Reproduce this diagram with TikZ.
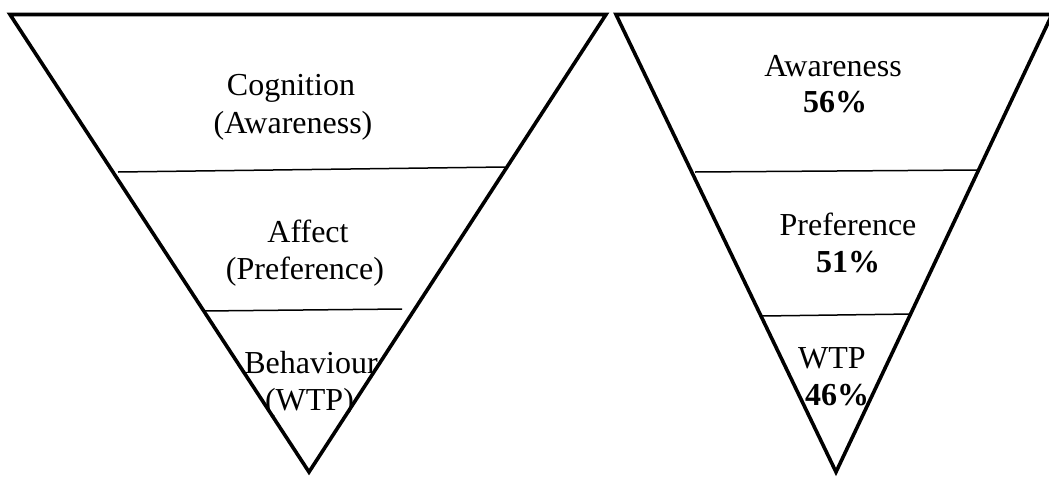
\documentclass[tikz,border=0pt]{standalone}
\usepackage{fontspec}
\setmainfont{Liberation Serif}
\begin{document}
\begin{tikzpicture}[x=1pt,y=-1pt,
  tri/.style={line width=3.6pt,line join=miter},
  sep/.style={line width=1.5pt},
  lbl/.style={anchor=base,inner sep=0pt,font=\fontsize{32}{38}\selectfont},
  pct/.style={lbl,font=\fontsize{32}{38}\selectfont\bfseries}]
\useasboundingbox (0,0) rectangle (1049,477);
% left funnel
\coordinate (L1) at (10,14.5);
\coordinate (L2) at (606,14.5);
\coordinate (L3) at (309,472);
\draw[tri] (L1) -- (L2) -- (L3) -- cycle;
\coordinate (la) at (118,172);
\coordinate (lb) at (505,167);
\coordinate (lc) at (203,311);
\coordinate (ld) at (402,309);
\draw[sep] (la) -- (lb);
\draw[sep] (lc) -- (ld);
\node[lbl] (cog) at (291,95) {Cognition};
\node[lbl] (cogb) at (293,133) {(Awareness)};
\node[lbl] (aff) at (308,242) {Affect};
\node[lbl] (affb) at (305,279) {(Preference)};
\node[lbl] (beh) at (311,373) {Behaviour};
\node[lbl] (behb) at (309.5,410) {(WTP)};
% right funnel
\coordinate (R1) at (616,14.5);
\coordinate (R2) at (1052,14.5);
\coordinate (R3) at (836,472);
\draw[tri] (R1) -- (R2) -- (R3) -- cycle;
\coordinate (ra) at (695,172);
\coordinate (rb) at (978,170);
\coordinate (rc) at (762,316);
\coordinate (rd) at (912,314);
\draw[sep] (ra) -- (rb);
\draw[sep] (rc) -- (rd);
\node[lbl] (aw) at (833,76) {Awareness};
\node[pct] (awp) at (835,112) {56\%};
\node[lbl] (pr) at (848,235) {Preference};
\node[pct] (prp) at (848,272) {51\%};
\node[lbl] (wtp) at (832,368) {WTP};
\node[pct] (wtpp) at (837,405) {46\%};
\end{tikzpicture}
\end{document}
